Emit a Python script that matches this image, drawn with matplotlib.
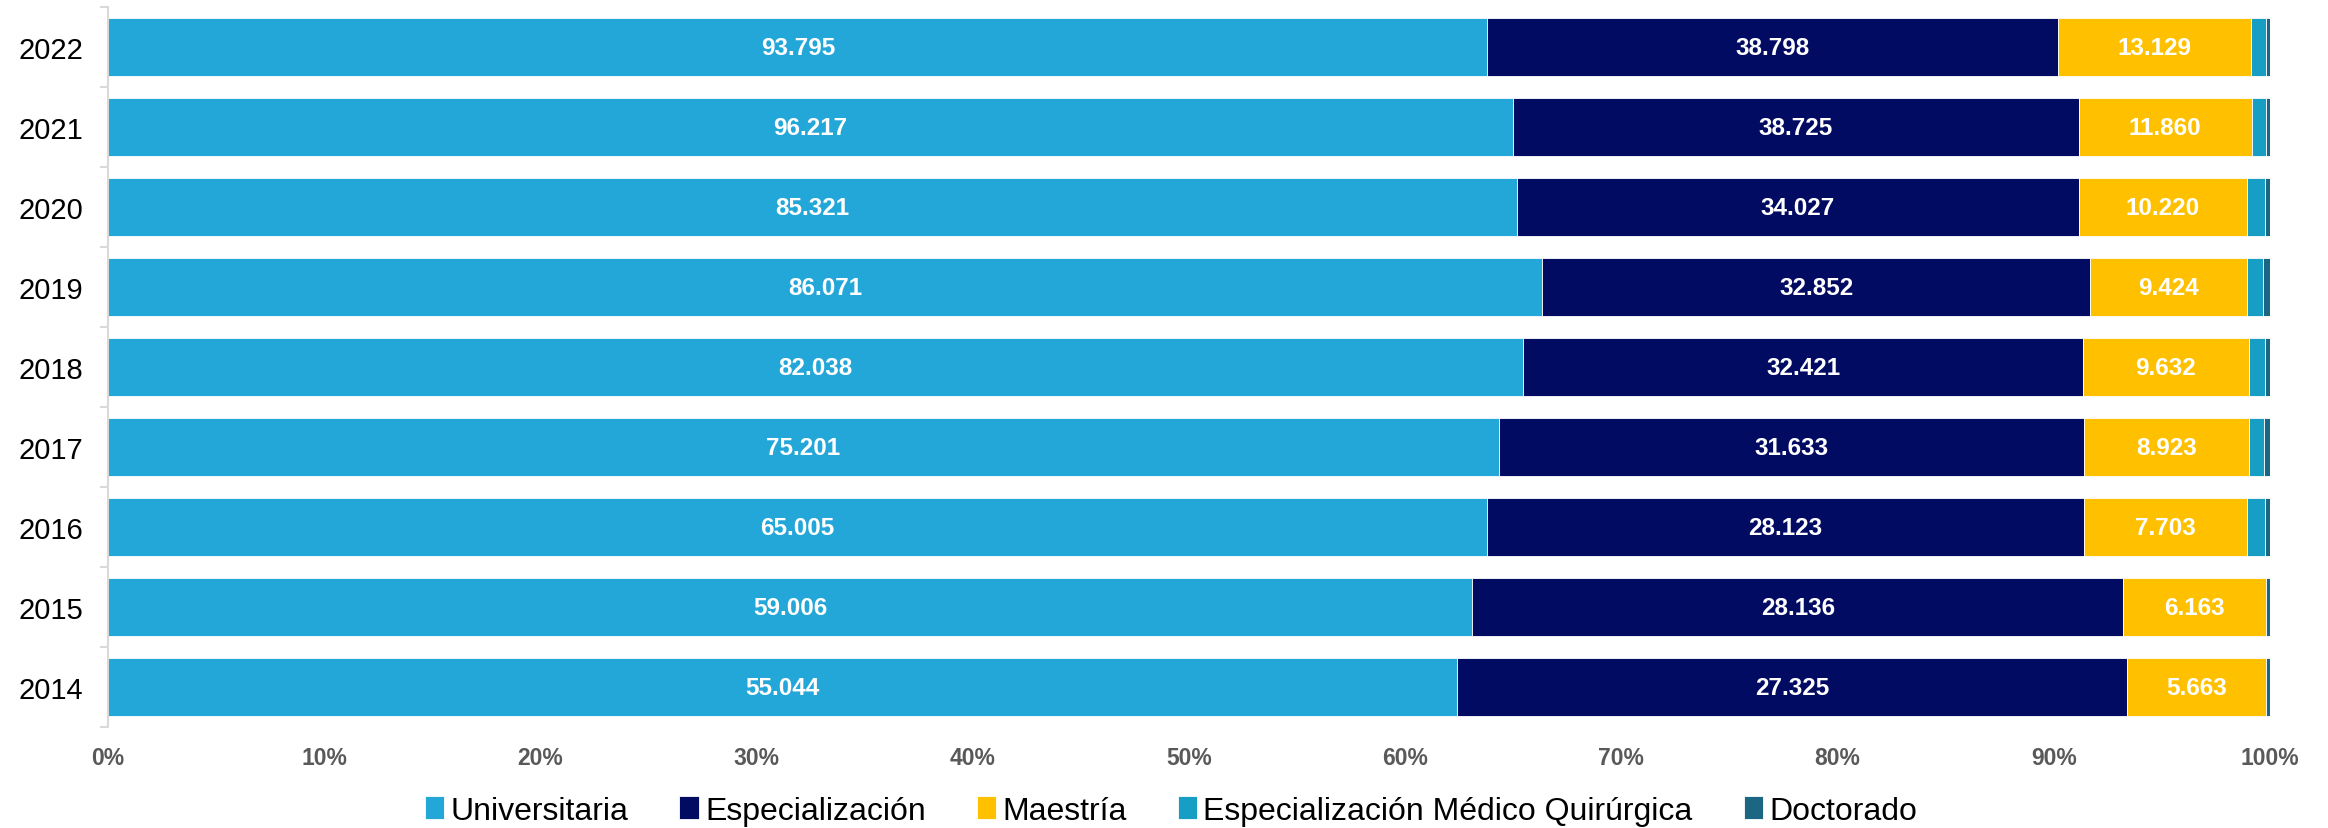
import numpy as np
import matplotlib
matplotlib.use('Agg')
import matplotlib.pyplot as plt

years = ['2014', '2015', '2016', '2017', '2018', '2019', '2020', '2021', '2022']
universitaria = [55044, 59006, 65005, 75201, 82038, 86071, 85321, 96217, 93795]
especializacion = [27325, 28136, 28123, 31633, 32421, 32852, 34027, 38725, 38798]
maestria = [5663, 6163, 7703, 8923, 9632, 9424, 10220, 11860, 13129]
# (no labels in the chart)
esp_medico = [0, 0, 820, 830, 910, 980, 1050, 960, 980]
doctorado = [180, 190, 250, 310, 310, 400, 320, 290, 300]

series_names = ['Universitaria', 'Especialización', 'Maestría',
                'Especialización Médico Quirúrgica', 'Doctorado']
colors = ['#23A6D8', '#020B62', '#FFC000', '#169EC4', '#1A6683']

plt.rcParams['font.family'] = ['Liberation Sans', 'DejaVu Sans']

data = np.array([universitaria, especializacion, maestria, esp_medico, doctorado], dtype=float)
totals = data.sum(axis=0)
pct = data / totals * 100

fig = plt.figure(figsize=(23.28, 8.29), dpi=100)
ax = fig.add_axes([0.0464, 0.1218, 0.9287, 0.8685])

y = np.arange(len(years))
left = np.zeros(len(years))
for i, name in enumerate(series_names):
    ax.barh(y, pct[i], left=left, height=0.72, color=colors[i],
            edgecolor='white', linewidth=0.6, label=name)
    if i < 3:
        for j in range(len(years)):
            txt = '{:,}'.format(int(data[i][j])).replace(',', '.')
            ax.text(left[j] + pct[i][j] / 2, y[j], txt, ha='center', va='center',
                    color='white', fontsize=17.5, fontweight='bold')
    left += pct[i]

ax.set_xlim(0, 100)
ax.set_ylim(-0.5, len(years) - 0.5)
ax.set_xticks(np.arange(0, 101, 10))
ax.set_xticklabels(['{}%'.format(v) for v in range(0, 101, 10)],
                   fontsize=16.5, fontweight='bold', color='#595959')
ax.tick_params(axis='x', length=0, pad=14)

ax.set_yticks(y)
ax.set_yticklabels(years, fontsize=21, color='black')
ax.tick_params(axis='y', length=0, pad=18)
ax.set_yticks(np.arange(-0.5, len(years), 1), minor=True)
ax.tick_params(axis='y', which='minor', length=6, color='#D9D9D9', width=1.5)

for s in ['top', 'right', 'bottom']:
    ax.spines[s].set_visible(False)
ax.spines['left'].set_color('#D9D9D9')
ax.spines['left'].set_linewidth(1.5)

handles, labels = ax.get_legend_handles_labels()
fig.legend(handles, labels, loc='center', bbox_to_anchor=(0.503, 0.021), ncol=5,
           frameon=False, fontsize=23, handlelength=0.6, handleheight=0.75,
           handletextpad=0.2, columnspacing=1.6, borderpad=0)

fig.savefig('out.png', dpi=100)
